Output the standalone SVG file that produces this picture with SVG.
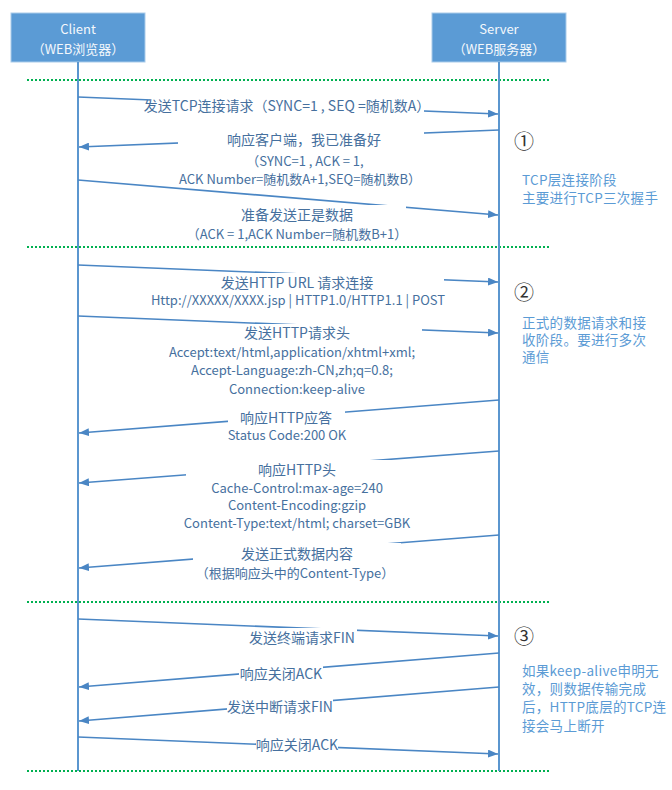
<svg xmlns="http://www.w3.org/2000/svg" width="672" height="790" viewBox="0 0 672 790">
<defs>
<marker id="ah" markerUnits="userSpaceOnUse" markerWidth="10" markerHeight="8" refX="10" refY="4" orient="auto">
<path d="M0,0 L10,4 L0,8 z" fill="#4A86C4"/>
</marker>
<style>
text{font-family:"Noto Sans CJK SC","Noto Sans",sans-serif}
.lbl{fill:#46709E;text-anchor:middle;dominant-baseline:central}
.m{font-size:14px}
.s{font-size:13px}
.msg{stroke:#4A86C4;stroke-width:1.6;fill:none;marker-end:url(#ah)}
.bg{fill:#fff}
.life{stroke:#5B96CF;stroke-width:2}
.sep{stroke:#00B050;stroke-width:2;stroke-dasharray:2 2}
.box{fill:#5B9BD5;stroke:#A9CBEA;stroke-width:1}
.hdr{fill:#F4F8FC;font-size:13px;text-anchor:middle;dominant-baseline:central}
.note{fill:#5B9BD5;font-size:13.5px;letter-spacing:0.3px}
.num{fill:#333;font-size:20px;text-anchor:middle;dominant-baseline:central}
</style>
</defs>
<rect width="672" height="790" fill="#fff"/>

<g id="separators">
<line class="sep" x1="27" y1="80" x2="550" y2="80"/>
<line class="sep" x1="27" y1="247" x2="550" y2="247"/>
<line class="sep" x1="27" y1="602" x2="550" y2="602"/>
<line class="sep" x1="27" y1="771" x2="550" y2="771"/>
</g>

<g id="client">
<rect class="box" x="11" y="13" width="134" height="49"/>
<text class="hdr" x="78" y="28">Client</text>
<text class="hdr" x="78" y="48">（WEB浏览器）</text>
<line class="life" x1="78" y1="62" x2="78" y2="771"/>
</g>

<g id="server">
<rect class="box" x="432" y="13" width="134" height="49"/>
<text class="hdr" x="499" y="28">Server</text>
<text class="hdr" x="499" y="48">（WEB服务器）</text>
<line class="life" x1="499" y1="62" x2="499" y2="771"/>
</g>

<g id="connectors">
<line class="msg" x1="78" y1="97" x2="498" y2="114"/>
<line class="msg" x1="499" y1="130" x2="79" y2="147"/>
<line class="msg" x1="78" y1="180" x2="498" y2="215"/>
<line class="msg" x1="78" y1="265" x2="498" y2="282"/>
<line class="msg" x1="78" y1="316" x2="498" y2="333"/>
<line class="msg" x1="499" y1="400" x2="79" y2="433"/>
<line class="msg" x1="499" y1="451" x2="79" y2="483"/>
<line class="msg" x1="499" y1="535" x2="79" y2="568"/>
<line class="msg" x1="78" y1="619" x2="498" y2="636"/>
<line class="msg" x1="499" y1="653" x2="79" y2="687"/>
<line class="msg" x1="499" y1="687" x2="79" y2="721"/>
<line class="msg" x1="78" y1="737" x2="498" y2="754"/>
</g>

<g id="labels">
<rect class="bg" x="150" y="97" width="274" height="17"/>
<text class="lbl m" x="287" y="105">发送TCP连接请求（SYNC=1 , SEQ =随机数A）</text>

<rect class="bg" x="178" y="131" width="246" height="54"/>
<text class="lbl m" x="304" y="139">响应客户端，我已准备好</text>
<text class="lbl s" x="305" y="160">（SYNC=1 , ACK = 1,</text>
<text class="lbl s" x="300" y="178">ACK Number=随机数A+1,SEQ=随机数B）</text>

<rect class="bg" x="190" y="205" width="216" height="36"/>
<text class="lbl m" x="297" y="214">准备发送正是数据</text>
<text class="lbl s" x="297" y="233">（ACK = 1,ACK Number=随机数B+1）</text>

<rect class="bg" x="152" y="273" width="292" height="33"/>
<text class="lbl m" x="297" y="282">发送HTTP URL 请求连接</text>
<text class="lbl s" x="298" y="299">Http://XXXXX/XXXX.jsp | HTTP1.0/HTTP1.1 | POST</text>

<rect class="bg" x="172" y="324" width="250" height="70"/>
<text class="lbl m" x="297" y="332">发送HTTP请求头</text>
<text class="lbl s" x="292" y="351">Accept:text/html,application/xhtml+xml;</text>
<text class="lbl s" x="292" y="369">Accept-Language:zh-CN,zh;q=0.8;</text>
<text class="lbl s" x="297" y="388">Connection:keep-alive</text>

<rect class="bg" x="228" y="409" width="117" height="33"/>
<text class="lbl m" x="286" y="417">响应HTTP应答</text>
<text class="lbl s" x="287" y="434">Status Code:200 OK</text>

<rect class="bg" x="186" y="460" width="222" height="69"/>
<text class="lbl m" x="297" y="469">响应HTTP头</text>
<text class="lbl s" x="297" y="487">Cache-Control:max-age=240</text>
<text class="lbl s" x="297" y="504">Content-Encoding:gzip</text>
<text class="lbl s" x="297" y="522">Content-Type:text/html; charset=GBK</text>

<rect class="bg" x="193" y="543" width="208" height="37"/>
<text class="lbl m" x="297" y="553">发送正式数据内容</text>
<text class="lbl s" x="295" y="572">（根据响应头中的Content-Type）</text>

<rect class="bg" x="249" y="628" width="108" height="17"/>
<text class="lbl m" x="302" y="637">发送终端请求FIN</text>

<rect class="bg" x="239" y="665" width="84" height="16"/>
<text class="lbl m" x="281" y="673">响应关闭ACK</text>

<rect class="bg" x="227" y="698" width="106" height="16"/>
<text class="lbl m" x="280" y="706">发送中断请求FIN</text>

<rect class="bg" x="256" y="736" width="82" height="16"/>
<text class="lbl m" x="297" y="744">响应关闭ACK</text>
</g>

<g id="notes">
<text class="num" x="524" y="140">①</text>
<text class="note" x="522" y="185">TCP层连接阶段</text>
<text class="note" x="522" y="203">主要进行TCP三次握手</text>

<text class="num" x="524" y="291">②</text>
<text class="note" x="522" y="328">正式的数据请求和接</text>
<text class="note" x="522" y="345">收阶段。要进行多次</text>
<text class="note" x="522" y="362">通信</text>

<text class="num" x="524" y="635">③</text>
<text class="note" x="522" y="676">如果keep-alive申明无</text>
<text class="note" x="522" y="694">效，则数据传输完成</text>
<text class="note" x="522" y="712">后，HTTP底层的TCP连</text>
<text class="note" x="522" y="731">接会马上断开</text>
</g>
</svg>
